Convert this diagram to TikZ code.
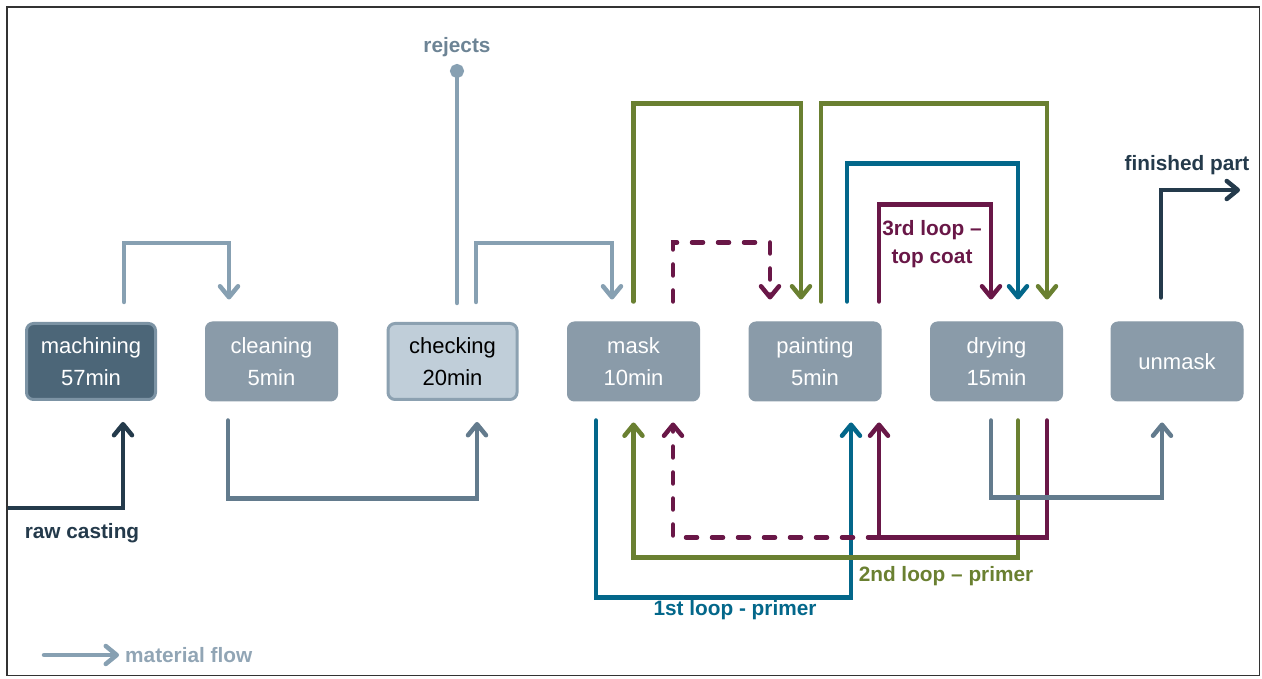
\documentclass[tikz,border=0pt]{standalone}
\usepackage{fontspec}
\setmainfont{Liberation Sans}
\usetikzlibrary{arrows.meta,calc}

\definecolor{boxgrey}{HTML}{8A9BA9}
\definecolor{machfill}{HTML}{4C6678}
\definecolor{machedge}{HTML}{7C93A4}
\definecolor{checkfill}{HTML}{C0CED9}
\definecolor{checkedge}{HTML}{8CA1B1}
\definecolor{flowlight}{HTML}{87A0B2}
\definecolor{flowmid}{HTML}{637B8D}
\definecolor{rejtext}{HTML}{6D8495}
\definecolor{legtext}{HTML}{91A5B5}
\definecolor{navy}{HTML}{243A4B}
\definecolor{olive}{HTML}{6A8031}
\definecolor{loopteal}{HTML}{03678A}
\definecolor{plum}{HTML}{691747}

\newcommand{\boxfont}{\fontsize{22}{32}\selectfont}
\newcommand{\lblfont}{\fontsize{20.8}{28}\selectfont\bfseries}

\tikzset{
  stepbox/.style={rounded corners=7pt, minimum width=132pt, minimum height=79pt,
    fill=boxgrey, draw=boxgrey, line width=1pt, text=white, align=center,
    inner sep=0pt, font=\boxfont},
  machbox/.style={stepbox, fill=machfill, draw=machedge, line width=3pt,
    minimum width=129pt, minimum height=76pt},
  checkbox/.style={stepbox, fill=checkfill, draw=checkedge, line width=3pt,
    minimum width=129pt, minimum height=76pt, text=black},
  conn/.style={line width=4.5pt, line cap=round, line join=miter,
    -{Straight Barb[length=11pt,width=18pt,line cap=round,round]}},
  lightflow/.style={conn, draw=flowlight},
  midflow/.style={conn, draw=flowmid},
  navyflow/.style={conn, draw=navy},
  greenflow/.style={conn, draw=olive},
  tealflow/.style={conn, draw=loopteal},
  plumflow/.style={conn, draw=plum},
  dashline/.style={dash pattern=on 11pt off 15pt},
  lbl/.style={font=\lblfont, inner sep=1pt, align=center}
}

\begin{document}
\begin{tikzpicture}[x=1pt,y=1pt]
\useasboundingbox (0,0) rectangle (1262,678);
\draw[black!80, line width=1.2pt] (7,2.5) rectangle (1259.5,671);

% process steps
\node[machbox]  (mach)   at (91,316.5)    {machining\\57min};
\node[stepbox]  (clean)  at (271.5,316.5) {cleaning\\5min};
\node[checkbox] (check)  at (452.5,316.5) {checking\\20min};
\node[stepbox]  (mask)   at (633.5,316.5) {mask\\10min};
\node[stepbox]  (paint)  at (815,316.5)   {painting\\5min};
\node[stepbox]  (dry)    at (996.5,316.5) {drying\\15min};
\node[stepbox]  (unmask) at (1177,316.5)  {unmask};

% labels
\node[lbl, text=rejtext] (rejlbl) at (457,631) {rejects};
\node[lbl, text=navy] (rawlbl) at (82,145) {raw casting};
\node[lbl, text=navy] (finlbl) at (1187,513) {finished part};
\node[lbl, text=plum] (loop3) at (932,434) {3rd loop --\\top coat};
\node[lbl, text=olive] (loop2) at (946,102) {2nd loop -- primer};
\node[lbl, text=loopteal] (loop1) at (735,68) {1st loop - primer};
\node[lbl, text=legtext, anchor=west] (leg) at (124,23) {material flow};

\coordinate (rej) at (457,614);
\coordinate (raw) at (8,170);
\coordinate (fin) at (1240,488);
\coordinate (legstart) at (44,23);

% main material flow
\draw[navyflow, line cap=butt] (raw) -| ($(mach.south)+(32,-21)$);
\draw[lightflow] ($(mach.north)+(33,20)$) -- ++(0,59) -| ($(clean.north)+(-42.5,22)$);
\draw[midflow] ($(clean.south)+(-43.5,-19)$) -- ++(0,-78) -| ($(check.south)+(24.5,-21)$);
\draw[lightflow, -{Circle[length=14pt]}] ($(check.north)+(4.5,19)$) -- (rej);
\draw[lightflow] ($(check.north)+(23.5,20)$) -- ++(0,59) -| ($(mask.north)+(-21.5,22)$);

% 1st loop - primer
\draw[tealflow] ($(mask.south)+(-37.5,-19)$) -- ++(0,-177) -| ($(paint.south)+(36,-21)$);
\draw[tealflow] ($(paint.north)+(32,20)$) -- ++(0,138) -| ($(dry.north)+(21.5,22)$);

% 2nd loop - primer
\draw[greenflow] ($(dry.south)+(21.5,-19)$) -- ++(0,-137) -| ($(mask.south)+(0,-21)$);
\draw[greenflow] ($(mask.north)+(0,20)$) -- ++(0,198) -| ($(paint.north)+(-14,22)$);
\draw[greenflow] ($(paint.north)+(6,20)$) -- ++(0,198) -| ($(dry.north)+(50.5,22)$);

% 3rd loop - top coat
\coordinate (plumcorner) at ($(paint.south)+(64,-136)$);
\draw[plumflow, dashline] (plumcorner) -| ($(mask.south)+(39.5,-21)$);
\draw[plumflow, dashline] ($(mask.north)+(39.5,20)$) -- ++(0,59) -| ($(paint.north)+(-45,22)$);
\draw[plumflow] ($(dry.south)+(50.5,-19)$) -- ++(0,-117) -| ($(paint.south)+(64,-21)$);
\draw[plumflow] ($(paint.north)+(64,20)$) -- ++(0,97) -| ($(dry.north)+(-5.5,22)$);

% out of the line
\draw[midflow] ($(dry.south)+(-5.5,-19)$) -- ++(0,-77) -| ($(unmask.south)+(-15,-21)$);
\draw[navyflow] ($(unmask.north)+(-16,24)$) |- (fin);

% legend
\draw[lightflow] (legstart) -- ($(leg.west)+(-5,0)$);
\end{tikzpicture}
\end{document}
